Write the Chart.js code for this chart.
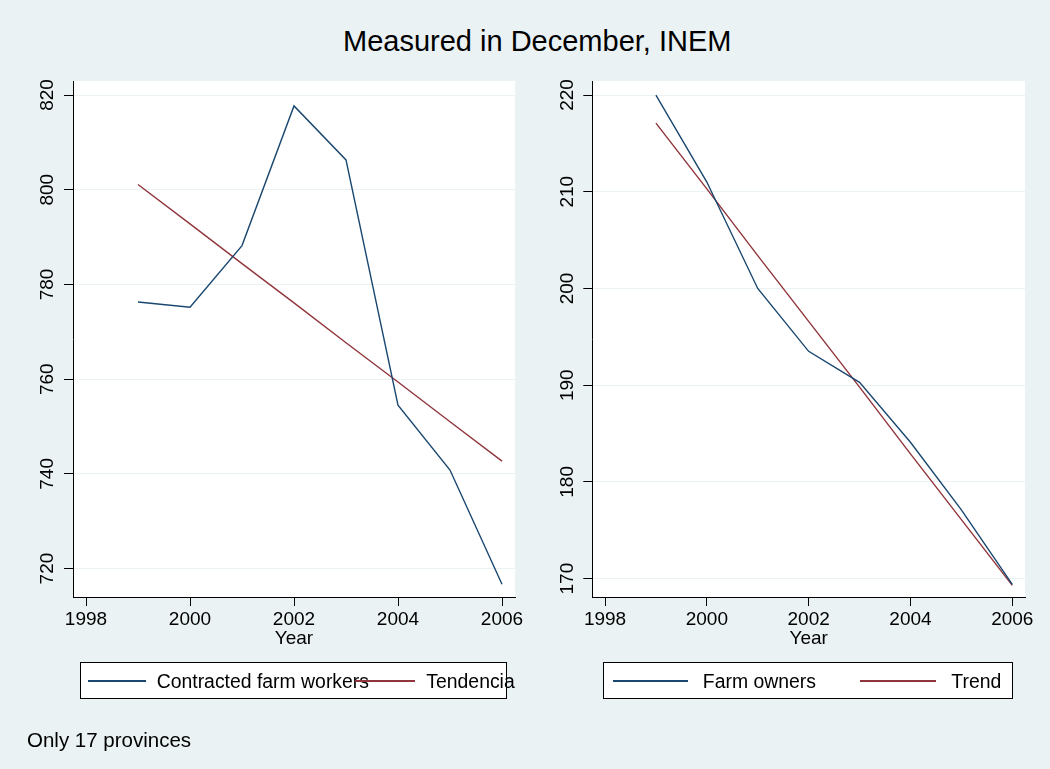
<!DOCTYPE html>
<html>
<head>
<meta charset="utf-8">
<title>Measured in December, INEM</title>
<script src="https://cdn.jsdelivr.net/npm/chart.js@4.4.0/dist/chart.umd.min.js"></script>
<style>
  html, body { margin: 0; padding: 0; }
  body {
    width: 1050px; height: 769px; overflow: hidden; position: relative;
    background: #EAF2F3; color: #000;
    font-family: "Liberation Sans", Arial, sans-serif;
  }
  canvas { position: absolute; top: 0; }
  .txt { position: absolute; white-space: nowrap; line-height: 1; }
  .legend { position: absolute; box-sizing: border-box; border: 1px solid #000; background: #fff; }
  .swatch { position: absolute; height: 1.5px; }
</style>
</head>
<body>
<div id="title" class="txt" style="left:343px; top:26.5px; font-size:29px;">Measured in December, INEM</div>
<canvas id="leftPanel" width="530" height="769" style="left:0px"></canvas>
<canvas id="rightPanel" width="520" height="769" style="left:530px"></canvas>
<div id="legends"></div>
<div id="note" class="txt" style="left:27px; top:730px; font-size:20.5px;">Only 17 provinces</div>

<script>
// Years on the horizontal axis
const years = [1999, 2000, 2001, 2002, 2003, 2004, 2005, 2006];
const yearTicks = [1998, 2000, 2002, 2004, 2006];

// Contracted farm workers (thousands) and linear trend
const contractedWorkers = [776.3, 775.2, 788.2, 817.7, 806.3, 754.5, 740.8, 716.7];
const contractedTrend   = [801.1, 792.8, 784.4, 776.1, 767.7, 759.4, 751.0, 742.7];
const workersTicks = [720, 740, 760, 780, 800, 820];

// Farm owners (thousands) and linear trend
const farmOwners  = [220.0, 211.0, 200.0, 193.5, 190.3, 184.1, 177.1, 169.4];
const ownersTrend = [217.1, 210.3, 203.4, 196.6, 189.8, 182.9, 176.1, 169.3];
const ownersTicks = [170, 180, 190, 200, 210, 220];

// Axis extents
const xRange = [1997.75, 2006.25];
const workersRange = [714.0, 822.96];
const ownersRange = [168.1, 221.45];

const NAVY = '#1A476F';
const MAROON = '#90353B';
const FONT = '"Liberation Sans", Arial, sans-serif';

// White plot region behind grid and lines
const plotBackground = {
  id: 'plotBackground',
  beforeDraw(chart) {
    const { ctx, chartArea: a } = chart;
    ctx.save();
    ctx.fillStyle = '#ffffff';
    ctx.fillRect(a.left, a.top, a.right - a.left, a.bottom - a.top);
    ctx.restore();
  }
};

function buildPanel(canvasId, series, yTicks, yRange, frame) {
  const axisFont = { family: FONT, size: 19 };
  return new Chart(document.getElementById(canvasId), {
    type: 'line',
    data: {
      datasets: series.map(s => ({
        label: s.label,
        data: years.map((yr, i) => ({ x: yr, y: s.values[i] })),
        borderColor: s.color,
        backgroundColor: s.color,
        borderWidth: 1.4,
        pointRadius: 0,
        tension: 0,
        fill: false
      }))
    },
    options: {
      responsive: false,
      animation: false,
      devicePixelRatio: 1,
      layout: { padding: { left: 0, right: frame.padRight, top: 81, bottom: 118.7 } },
      plugins: {
        legend: { display: false },
        tooltip: { enabled: false },
        title: { display: false }
      },
      scales: {
        x: {
          type: 'linear',
          position: 'bottom',
          min: xRange[0],
          max: xRange[1],
          afterBuildTicks: s => { s.ticks = yearTicks.map(v => ({ value: v })); },
          afterFit: s => { s.height = 53.3; },
          grid: { drawOnChartArea: false, drawTicks: true, tickLength: 9, tickColor: '#000', tickWidth: 1 },
          border: { display: true, color: '#000', width: 1 },
          ticks: { font: axisFont, color: '#000', padding: 2, maxRotation: 0, autoSkip: false,
                   callback: v => String(v) },
          title: { display: true, text: 'Year', font: axisFont, color: '#000', padding: 0 }
        },
        y: {
          type: 'linear',
          position: 'left',
          min: yRange[0],
          max: yRange[1],
          afterBuildTicks: s => { s.ticks = yTicks.map(v => ({ value: v })); },
          afterFit: s => { s.width = frame.axisLeft; },
          grid: { color: '#EAF2F3', lineWidth: 1, drawTicks: true, tickLength: 9, tickColor: '#000', tickWidth: 1 },
          border: { display: true, color: '#000', width: 1 },
          ticks: { font: axisFont, color: '#000', padding: 0, minRotation: 90, maxRotation: 90,
                   crossAlign: 'center', autoSkip: false, callback: v => String(v) }
        }
      }
    },
    plugins: [plotBackground]
  });
}

const workersSeries = [
  { label: 'Contracted farm workers', values: contractedWorkers, color: NAVY },
  { label: 'Tendencia', values: contractedTrend, color: MAROON }
];
const ownersSeries = [
  { label: 'Farm owners', values: farmOwners, color: NAVY },
  { label: 'Trend', values: ownersTrend, color: MAROON }
];

buildPanel('leftPanel', workersSeries, workersTicks, workersRange, { axisLeft: 73, padRight: 15 });
buildPanel('rightPanel', ownersSeries, ownersTicks, ownersRange, { axisLeft: 62.3, padRight: 25 });

// Legend boxes under each panel: key line followed by its label
const legendLayout = [
  { box: [80, 662, 427, 37], series: workersSeries,
    keys: [{ x0: 88.3, x1: 146, tx: 156.7 }, { x0: 355, x1: 415, tx: 426.3 }] },
  { box: [603.3, 662, 409.4, 37], series: ownersSeries,
    keys: [{ x0: 612.7, x1: 687.7, tx: 702.8 }, { x0: 860, x1: 936, tx: 951.3 }] }
];

const host = document.getElementById('legends');
legendLayout.forEach(lg => {
  const box = document.createElement('div');
  box.className = 'legend';
  Object.assign(box.style, { left: lg.box[0] + 'px', top: lg.box[1] + 'px', width: lg.box[2] + 'px', height: lg.box[3] + 'px' });
  host.appendChild(box);
  lg.series.forEach((s, i) => {
    const k = lg.keys[i];
    const line = document.createElement('div');
    line.className = 'swatch';
    Object.assign(line.style, { left: k.x0 + 'px', top: '680.25px', width: (k.x1 - k.x0) + 'px', background: s.color });
    const label = document.createElement('div');
    label.className = 'txt';
    label.textContent = s.label;
    Object.assign(label.style, { left: k.tx + 'px', top: '671.6px', fontSize: '19.4px' });
    host.appendChild(line);
    host.appendChild(label);
  });
});
</script>
</body>
</html>
